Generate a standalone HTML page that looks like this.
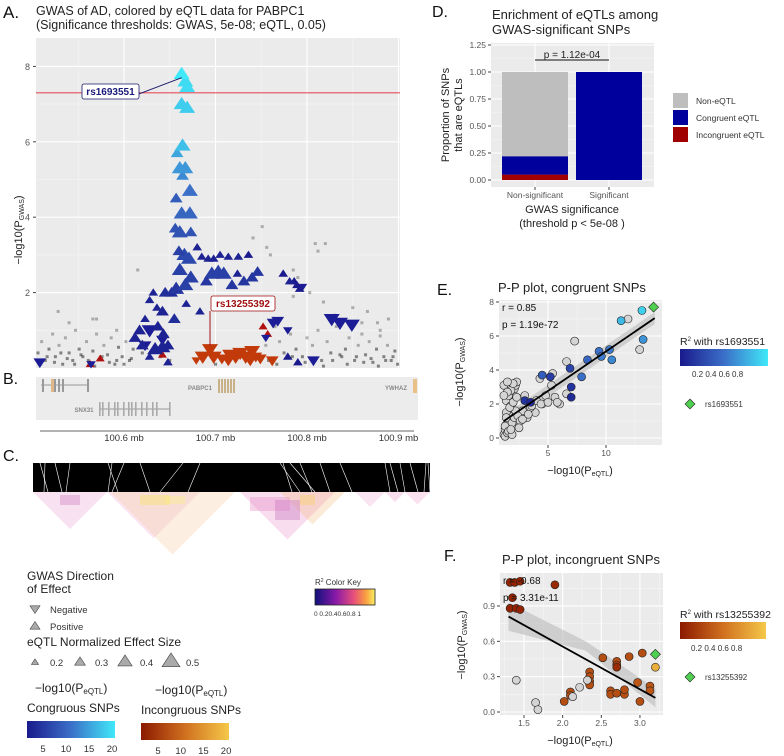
<!DOCTYPE html>
<html><head><meta charset="utf-8"><style>
body{margin:0;background:#fff;}
svg{display:block;font-family:"Liberation Sans",sans-serif;}
</style></head><body>
<svg id="fig" width="784" height="756" viewBox="0 0 784 756" xmlns="http://www.w3.org/2000/svg">
<defs>
<linearGradient id="gBlue" x1="0" x2="1"><stop offset="0" stop-color="#1a1a8c"/><stop offset="0.5" stop-color="#3b6fc8"/><stop offset="1" stop-color="#40e8f8"/></linearGradient>
<linearGradient id="gOrange" x1="0" x2="1"><stop offset="0" stop-color="#8b1a00"/><stop offset="0.5" stop-color="#d07020"/><stop offset="1" stop-color="#f5c848"/></linearGradient>
<linearGradient id="gLD" x1="0" x2="1"><stop offset="0" stop-color="#10107a"/><stop offset="0.35" stop-color="#8a1aa8"/><stop offset="0.65" stop-color="#e8507a"/><stop offset="0.85" stop-color="#f8a040"/><stop offset="1" stop-color="#f8f060"/></linearGradient>
</defs>
<g id="root"></g>
</svg>
<script>
// ===== Panel A data =====
const congMb = [100.663,100.667,100.669,100.663,100.669,100.664,100.658,100.661,100.667,100.664,100.672,100.657,100.663,100.672,100.656,100.661,100.673,100.660,100.666,100.671,100.661,100.673,100.667,100.657,100.652,100.645,100.636,100.642,100.655,100.668,100.683,100.690,100.696,100.703,100.709,100.718,100.731,100.740,100.746,100.680,100.685,100.692,100.698,100.705,100.714,100.725,100.736,100.724,100.628,100.632,100.623,100.617,100.612,100.620,100.634,100.642,100.648,100.643,100.637,100.628,100.781,100.786,100.789,100.792,100.774,100.648,100.779,100.790];
const congP = [7.8,7.6,7.45,7.0,6.9,5.9,5.7,5.3,5.3,5.1,4.7,4.5,4.1,4.1,3.7,3.6,3.6,3.1,3.0,2.9,2.6,2.4,2.2,2.1,2.0,2.0,1.6,1.5,1.3,1.7,1.5,2.3,2.5,2.55,2.5,2.2,2.3,2.4,2.55,3.2,2.95,2.9,2.9,3.0,2.95,2.95,3.0,2.5,1.8,2.0,1.3,1.0,0.8,0.6,0.5,0.55,0.6,0.9,1.1,0.3,2.3,2.3,2.2,2.1,2.5,0.15,0.3,0.15];
const congSize = [0.5,0.5,0.5,0.5,0.5,0.5,0.4,0.5,0.5,0.4,0.5,0.4,0.5,0.5,0.4,0.5,0.4,0.4,0.5,0.5,0.5,0.5,0.5,0.5,0.4,0.4,0.3,0.4,0.4,0.3,0.3,0.4,0.5,0.5,0.5,0.4,0.4,0.4,0.4,0.3,0.3,0.3,0.3,0.3,0.3,0.3,0.3,0.3,0.3,0.3,0.3,0.4,0.4,0.4,0.5,0.5,0.4,0.4,0.4,0.3,0.3,0.3,0.3,0.3,0.3,0.3,0.3,0.3];
const congEqtl = [20,19,19,18,18,17,15,14,14,13,11,9,10,10,8,8,8,6,7,7,6,6,6,5,4,4,3,3,4,3,3,5,6,6,6,5,5,5,5,3,3,3,3,3,3,3,2,3,3,3,3,3,3,3,3,3,3,3,3,3,3,2,2,2,2,3,2,2];
const congDownMb = [100.628,100.642,100.623,100.827,100.836,100.849,100.763,100.768,100.779,100.795,100.508,100.807,100.755,100.564];
const congDownP = [1.0,0.75,0.6,1.3,1.2,1.15,1.2,1.25,1.0,2.15,0.15,0.2,0.8,0.1];
const congDownSize = [0.5,0.4,0.4,0.5,0.5,0.5,0.4,0.4,0.3,0.3,0.4,0.4,0.3,0.3];
const incMb = [100.694,100.686,100.698,100.707,100.716,100.722,100.727,100.733,100.740,100.744,100.749,100.738,100.762,100.679,100.714];
const incP = [0.5,0.3,0.3,0.25,0.35,0.3,0.4,0.3,0.45,0.3,0.25,0.2,0.2,0.2,0.2];
const incSize = [0.5,0.5,0.5,0.4,0.5,0.5,0.5,0.5,0.5,0.4,0.4,0.4,0.4,0.3,0.4];
const incUpMb = [100.752,100.757,100.574,100.642,100.563];
const incUpP = [1.1,0.9,0.25,0.35,0.1];
const greyMb = [100.751,100.741,100.756,100.809,100.820,100.812,100.760,100.785,100.790,100.803,100.818,100.615,100.528,100.566,100.866,100.850,100.889,100.785,100.877,
100.506,100.510,100.514,100.518,100.522,100.525,100.529,100.533,100.536,100.540,100.544,100.547,100.551,100.555,100.559,100.562,100.566,100.570,100.574,100.578,100.582,100.586,100.590,100.594,100.598,100.602,100.606,100.610,100.620,100.640,100.650,100.700,100.755,100.765,100.770,100.775,100.782,100.788,100.795,100.800,100.806,100.812,100.816,100.822,100.826,100.832,100.838,100.842,100.846,100.852,100.856,100.860,100.864,100.868,100.872,100.876,100.880,100.884,100.888,100.892,100.896,100.899,
100.508,100.516,100.524,100.531,100.538,100.546,100.553,100.561,100.568,100.576,100.584,100.592,100.600,100.608,100.758,100.767,100.784,100.798,100.808,100.818,100.828,100.836,100.844,100.854,100.862,100.870,100.878,100.886,100.894,100.540,100.570,100.592,100.830,100.860,100.880];
const greyP = [3.75,3.45,3.2,3.3,3.3,3.1,3.0,2.6,2.4,2.0,1.75,2.6,1.5,1.3,1.5,1.6,1.3,1.9,1.2,
0.4,0.7,0.2,0.5,0.9,0.3,0.6,0.1,0.8,0.4,0.2,1.0,0.5,0.3,0.7,0.15,0.45,0.9,0.25,0.6,0.35,0.8,0.1,0.55,0.3,0.7,0.2,0.5,0.4,0.3,0.2,0.1,0.6,1.1,0.7,0.4,0.9,0.5,0.3,0.8,0.6,1.0,0.2,0.7,0.4,1.1,0.3,0.5,0.8,0.2,0.6,0.9,0.35,0.7,0.15,0.5,0.85,0.3,0.6,0.2,0.45,0.1,
0.1,0.3,0.15,0.4,0.25,0.1,0.35,0.2,0.05,0.3,0.15,0.2,0.1,0.25,0.2,0.1,0.3,0.15,0.25,0.05,0.2,0.35,0.1,0.3,0.15,0.25,0.05,0.2,0.3,1.2,1.3,1.0,1.4,1.2,1.0];
const aYTicks = [2,4,6,8];
const aXTicks = [100.6,100.7,100.8,100.9];
const aXLabels = ["100.6 mb","100.7 mb","100.8 mb","100.9 mb"];
const gwasThreshold = 7.3;

// ===== Panel D data =====
const dCategories = ["Non-significant","Significant"];
const dIncongruent = [0.05,0.0];
const dCongruent = [0.17,1.0];
const dNonEqtl = [0.78,0.0];
const dYTicks = [0,0.25,0.5,0.75,1.0,1.25];
const dYLabels = ["0.00","0.25","0.50","0.75","1.00","1.25"];

// ===== Panel E data =====
const eX = [3,3.5,4.5,5.2,6.9,7,7,7.9,8.4,9.4,9.6,10.3,10.5,11.3,13.1,13.2,
7.3,6.6,6.6,11.9,12.9,5.3,5.4,4.3,4.8,5.6,6,5.8,4.5,3.9,3.5,3.0,3.2,2.8,2.5,2.0,
1.2,1.3,1.4,1.5,1.6,1.7,1.8,1.9,2.0,2.1,2.2,2.3,1.3,1.5,1.7,1.9,2.1,1.4,1.6,1.8,2.0,1.2,1.5,1.8,2.2,2.4,2.6,1.3,1.6,1.9,1.4,1.7,2.0,2.3,1.5,1.2,1.4,1.8,2.5,2.8,3.3,3.6,4.0,4.4,5.0];
const eY = [2.2,2.1,3.7,3.6,4.1,3.0,2.4,3.6,4.6,5.1,4.8,5.2,4.6,6.9,7.5,5.8,
5.7,4.5,2.6,7.0,5.2,3.1,3.8,3.5,2.5,2.4,2.0,2.1,2.0,1.5,1.8,2.5,1.2,1.6,1.0,0.8,
0.2,0.5,0.8,1.1,1.4,1.7,2.0,2.3,2.6,2.9,3.1,3.3,0.1,0.3,0.6,0.9,1.2,2.2,2.5,2.8,3.2,3.1,3.3,1.9,1.6,1.3,1.0,0.7,0.4,0.2,1.5,1.8,2.1,2.4,2.7,2.5,1.2,0.5,0.6,1.1,1.4,1.9,2.2,2.0,2.1];
const eR2 = [0.15,0.1,0.4,0.2,0.25,0.15,0.1,0.5,0.45,0.5,0.55,0.55,0.6,0.8,0.9,0.65,
-1,-1,-1,-1,-1,-1,-1,-1,-1,-1,-1,-1,-1,-1,-1,-1,-1,-1,-1,-1,
-1,-1,-1,-1,-1,-1,-1,-1,-1,-1,-1,-1,-1,-1,-1,-1,-1,-1,-1,-1,-1,-1,-1,-1,-1,-1,-1,-1,-1,-1,-1,-1,-1,-1,-1,-1,-1,-1,-1,-1,-1,-1,-1,-1,-1];
const eLead = [14.1,7.7];
const eFit = [[1.2,1.0],[14.2,7.05]];
const eXTicks = [5,10];
const eYTicks = [0,2,4,6,8];

// ===== Panel F data =====
const fX = [1.32,1.38,1.45,1.35,1.32,1.40,1.45,1.90,2.02,2.10,2.10,2.35,2.35,2.35,2.35,2.52,2.62,2.62,2.70,2.70,2.70,2.70,2.80,2.80,2.86,2.97,3.00,3.03,3.13,3.13,3.20,
1.40,1.65,1.68,2.13,2.22,2.32];
const fY = [1.1,1.1,1.11,0.97,0.88,0.88,0.87,1.08,0.09,0.17,0.14,0.34,0.30,0.26,0.23,0.46,0.18,0.15,0.43,0.40,0.38,0.16,0.15,0.19,0.47,0.25,0.09,0.50,0.22,0.18,0.38,
0.27,0.08,0.02,0.13,0.21,0.27];
const fR2 = [0.05,0.05,0.05,0.05,0.05,0.05,0.05,0.1,0.3,0.3,0.3,0.3,0.3,0.3,0.3,0.3,0.3,0.3,0.3,0.2,0.1,0.3,0.3,0.3,0.3,0.35,0.3,0.3,0.35,0.35,0.85,
-1,-1,-1,-1,-1,-1];
const fLead = [3.2,0.49];
const fFit = [[1.3,0.81],[3.2,0.12]];
const fXTicks = [1.5,2.0,2.5,3.0];
const fYTicks = [0,0.3,0.6,0.9];

// ===== helpers =====
const NS="http://www.w3.org/2000/svg";
const root=document.getElementById('root');
function el(tag,attrs,parent,text){const e=document.createElementNS(NS,tag);for(const k in attrs)e.setAttribute(k,attrs[k]);if(text!==undefined)e.textContent=text;(parent||root).appendChild(e);return e;}
function mix(c1,c2,t){const a=[1,3,5].map(i=>parseInt(c1.substr(i,2),16)),b=[1,3,5].map(i=>parseInt(c2.substr(i,2),16));return 'rgb('+a.map((v,i)=>Math.round(v+(b[i]-v)*t)).join(',')+')';}
function blueCol(t){t=Math.max(0,Math.min(1,t));return t<0.5?mix('#1a1a8c','#3b6fc8',t*2):mix('#3b6fc8','#40e8f8',(t-0.5)*2);}
function orangeCol(t){t=Math.max(0,Math.min(1,t));return t<0.5?mix('#8b1a00','#d07020',t*2):mix('#d07020','#f5c848',(t-0.5)*2);}
function tri(g,x,y,r,up,fill,stroke){const h=r*0.9;const pts=up?[[x,y-h],[x-r,y+h*0.7],[x+r,y+h*0.7]]:[[x,y+h],[x-r,y-h*0.7],[x+r,y-h*0.7]];return el('polygon',{points:pts.map(p=>p.join(',')).join(' '),fill:fill,stroke:stroke||'none','stroke-width':0.6},g);}

// ===== Panel A =====
const xA=mb=>124+(mb-100.6)*915, yA=p=>368-p*37.7;
const gA=el('g',{});


el('text',{x:3,y:18,'font-size':17,fill:'#111'},gA,'A.');
el('text',{x:36,y:15,'font-size':12.5,fill:'#222'},gA,'GWAS of AD, colored by eQTL data for PABPC1');
el('text',{x:36,y:29,'font-size':12.5,fill:'#222'},gA,'(Significance thresholds: GWAS, 5e-08; eQTL, 0.05)');
el('rect',{x:36,y:38,width:364,height:330,fill:'#ebebeb'},gA);
for(let v=1;v<=8;v+=2){el('line',{x1:36,x2:400,y1:yA(v),y2:yA(v),stroke:'#f5f5f5','stroke-width':0.6},gA);}
aYTicks.forEach(v=>{el('line',{x1:36,x2:400,y1:yA(v),y2:yA(v),stroke:'#fff','stroke-width':1.1},gA);el('line',{x1:33,x2:36,y1:yA(v),y2:yA(v),stroke:'#444'},gA);const t=el('text',{x:30,y:yA(v)+3.5,'font-size':9,fill:'#555','text-anchor':'end'},gA,String(v));});
[100.55,100.65,100.75,100.85].forEach(v=>el('line',{x1:xA(v),x2:xA(v),y1:38,y2:368,stroke:'#f5f5f5','stroke-width':0.6},gA));
aXTicks.forEach(v=>el('line',{x1:xA(v),x2:xA(v),y1:38,y2:368,stroke:'#fff','stroke-width':1.1},gA));
const ylA=el('text',{x:0,y:0,'font-size':11,fill:'#222','text-anchor':'middle',transform:'translate(22,230) rotate(-90)'},gA);

ylA.innerHTML='−log10(P<tspan font-size="7" dy="2">GWAS</tspan><tspan dy="-2">)</tspan>';
greyMb.forEach((m,i)=>{const r=el('rect',{x:xA(m)-1.5,y:yA(greyP[i])-1.5,width:3,height:3,fill:'#000','fill-opacity':greyP[i]<0.6?0.45:0.28},gA);});
incUpMb.forEach((m,i)=>{const t=tri(gA,xA(m),yA(incUpP[i]),4.5,true,'#b01010');});
incMb.forEach((m,i)=>{const t=tri(gA,xA(m),yA(incP[i]),incSize[i]*16,false,'#c23a0a');});
congDownMb.forEach((m,i)=>{const t=tri(gA,xA(m),yA(congDownP[i]),congDownSize[i]*16,false,'#1c1c96');});
congMb.map((m,i)=>i).reverse().forEach(i=>{const t=tri(gA,xA(congMb[i]),yA(congP[i]),congSize[i]*16,true,blueCol((congEqtl[i]-2)/18));});
const thr=el('line',{x1:36,x2:400,y1:yA(gwasThreshold),y2:yA(gwasThreshold),stroke:'#e8505a','stroke-width':1.2},gA);

el('line',{x1:137,y1:yA(7.25),x2:xA(100.663),y2:yA(7.7),stroke:'#1a1a6a','stroke-width':1},gA);
const lb1=el('g',{},gA);
el('rect',{x:82,y:84,width:57,height:15,rx:2,fill:'#fff',stroke:'#1a1a6a','stroke-width':0.8},lb1);
el('text',{x:110.5,y:95,'font-size':10,'font-weight':'bold',fill:'#1a1a7a','text-anchor':'middle'},lb1,'rs1693551');
el('line',{x1:xA(100.694),y1:311,x2:xA(100.694),y2:yA(0.6),stroke:'#a01010','stroke-width':1},gA);
const lb2=el('g',{},gA);
el('rect',{x:211,y:296,width:64,height:15,rx:2,fill:'#fff',stroke:'#a01010','stroke-width':0.8},lb2);
el('text',{x:243,y:307,'font-size':10,'font-weight':'bold',fill:'#a01010','text-anchor':'middle'},lb2,'rs13255392');

// ===== Panel B =====
const gB=el('g',{});
el('text',{x:3,y:384,'font-size':16,fill:'#111'},gB,'B.');
el('rect',{x:36,y:377,width:382,height:43,fill:'#ececec'},gB);
el('line',{x1:41,x2:87,y1:385,y2:385,stroke:'#999'},gB);
[42,51,54,58,62,87].forEach((x,i)=>el('rect',{x:x,y:379,width:i==1?3:2,height:13,fill:i==1?'#e0b888':'#999'},gB));
el('text',{x:200,y:390,'font-size':6,fill:'#888','font-weight':'bold','text-anchor':'middle'},gB,'PABPC1');
[218,221,224,227,230,233].forEach(x=>el('rect',{x:x,y:379,width:2,height:14,fill:'#c8b088'},gB));
el('text',{x:396,y:390,'font-size':6,fill:'#888','font-weight':'bold','text-anchor':'middle'},gB,'YWHAZ');
el('rect',{x:413,y:379,width:4,height:14,fill:'#e8c088'},gB);
el('text',{x:84,y:412,'font-size':6,fill:'#888','font-weight':'bold','text-anchor':'middle'},gB,'SNX31');
el('line',{x1:99,x2:170,y1:409,y2:409,stroke:'#999'},gB);
[99,102,108,114,117,123,128,131,135,141,146,152,156,169].forEach(x=>el('rect',{x:x,y:402,width:1.6,height:14,fill:'#aaa'},gB));
el('line',{x1:40,x2:414,y1:431,y2:431,stroke:'#999','stroke-width':1.5},gB);
aXTicks.forEach((v,i)=>{const t=el('text',{x:xA(v),y:441,'font-size':9.5,fill:'#333','text-anchor':'middle'},gB,aXLabels[i]);});

// ===== Panel C =====
const gC=el('g',{});
el('text',{x:3,y:461,'font-size':16,fill:'#111'},gC,'C.');
const ldTris=[[33,107,'#e8a0d0'],[107,200,'#eeb0d8'],[110,235,'#f4c898'],[240,335,'#e890c8'],[280,345,'#f4b880'],[355,385,'#eca8d0'],[385,405,'#e890c0'],[405,430,'#eca0c8']];
ldTris.forEach(t=>{const w=t[1]-t[0];el('polygon',{points:`${t[0]},492 ${t[1]},492 ${(t[0]+t[1])/2},${492+w*0.5}`,fill:t[2],'fill-opacity':0.3},gC);});
[[140,495,30,10,'#f8e060'],[250,497,40,14,'#e890c8'],[275,500,25,20,'#c878c0'],[60,495,20,10,'#d080c0'],[165,496,20,8,'#f8f080'],[300,495,15,10,'#f8d060']].forEach(r=>el('rect',{x:r[0],y:r[1],width:r[2],height:r[3],fill:r[4],'fill-opacity':0.4},gC));
el('rect',{x:33,y:463,width:397,height:29,fill:'#000'},gC);
[[40,48],[45,44],[55,62],[70,66],[108,118],[112,108],[124,112],[140,150],[183,160],[200,188],[280,300],[283,292],[290,315],[300,312],[320,330],[340,352],[385,390],[390,398],[400,405],[410,418],[426,424],[428,430]].forEach(l=>el('line',{x1:l[0],y1:463,x2:l[1],y2:492,stroke:'#fff','stroke-width':0.6},gC));

// ===== Legends (bottom-left) =====
const gL=el('g',{});
el('text',{x:27,y:580,'font-size':12,fill:'#222'},gL,'GWAS Direction');
el('text',{x:27,y:593,'font-size':12,fill:'#222'},gL,'of Effect');
tri(gL,35,609,5,false,'#aaa','#444');el('text',{x:50,y:613,'font-size':9.5,fill:'#333'},gL,'Negative');
tri(gL,35,626,5,true,'#aaa','#444');el('text',{x:50,y:630,'font-size':9.5,fill:'#333'},gL,'Positive');
el('text',{x:27,y:646,'font-size':12,fill:'#222'},gL,'eQTL Normalized Effect Size');
[[35,0.2],[80,0.3],[125,0.4],[171,0.5]].forEach(s=>{tri(gL,s[0],663-s[1]*4,s[1]*18,true,'#aaa','#444');el('text',{x:s[0]+15,y:666,'font-size':9.5,fill:'#333'},gL,String(s[1]));});
el('text',{x:35,y:692,'font-size':12,fill:'#222'},gL).innerHTML='−log10(P<tspan font-size="8" dy="2">eQTL</tspan><tspan dy="-2">)</tspan>';
el('text',{x:155,y:694,'font-size':12,fill:'#222'},gL).innerHTML='−log10(P<tspan font-size="8" dy="2">eQTL</tspan><tspan dy="-2">)</tspan>';
el('text',{x:27,y:712,'font-size':12,fill:'#222'},gL,'Congruous SNPs');
el('text',{x:141,y:714,'font-size':12,fill:'#222'},gL,'Incongruous SNPs');
const cb1=el('rect',{x:27,y:721,width:88,height:17,fill:'url(#gBlue)'},gL);
const cb2=el('rect',{x:141,y:723,width:88,height:17,fill:'url(#gOrange)'},gL);
[5,10,15,20].forEach((v,i)=>{el('text',{x:43+i*23,y:752,'font-size':9.5,fill:'#333','text-anchor':'middle'},gL,String(v));el('text',{x:158+i*22.7,y:754,'font-size':9.5,fill:'#333','text-anchor':'middle'},gL,String(v));});
el('text',{x:315,y:585,'font-size':8,fill:'#333'},gL).innerHTML='R<tspan font-size="5" dy="-3">2</tspan><tspan dy="3"> Color Key</tspan>';
const ldb=el('rect',{x:315,y:589,width:60,height:16,fill:'url(#gLD)',stroke:'#222','stroke-width':0.8},gL);
el('text',{x:314,y:616,'font-size':6.5,fill:'#333'},gL,'0  0.20.40.60.8  1');

// ===== Panel D =====
const yD=v=>180-v*108;
const gD=el('g',{});
el('text',{x:432,y:17,'font-size':16,fill:'#111'},gD,'D.');
el('text',{x:492,y:19,'font-size':13,fill:'#222'},gD,'Enrichment of eQTLs among');
el('text',{x:492,y:34,'font-size':13,fill:'#222'},gD,'GWAS-significant SNPs');
el('rect',{x:491,y:43,width:163,height:144,fill:'#ebebeb'},gD);
dYTicks.forEach((v,i)=>{if(i<dYTicks.length-1)el('line',{x1:491,x2:654,y1:yD(v+0.125),y2:yD(v+0.125),stroke:'#f5f5f5','stroke-width':0.6},gD);el('line',{x1:491,x2:654,y1:yD(v),y2:yD(v),stroke:'#fff','stroke-width':1.1},gD);el('line',{x1:488,x2:491,y1:yD(v),y2:yD(v),stroke:'#444'},gD);const t=el('text',{x:486,y:yD(v)+3,'font-size':8.5,fill:'#555','text-anchor':'end'},gD,dYLabels[i]);});
const xD=i=>535+i*74;
dCategories.forEach((c,i)=>{el('line',{x1:xD(i),x2:xD(i),y1:43,y2:187,stroke:'#fff','stroke-width':1.1},gD);
 let base=0;[[dIncongruent,'#a00000','bar-incongruent'],[dCongruent,'#00009c','bar-congruent'],[dNonEqtl,'#bebebe','bar-non-eqtl']].forEach(s=>{const v=s[0][i];if(v>0){const r=el('rect',{x:xD(i)-33,y:yD(base+v),width:66,height:v*108,fill:s[1]},gD);}base+=v;});
 el('line',{x1:xD(i),x2:xD(i),y1:187,y2:190,stroke:'#444'},gD);
 const t=el('text',{x:xD(i),y:198,'font-size':8.5,fill:'#555','text-anchor':'middle'},gD,c);});
el('line',{x1:535,x2:609,y1:60,y2:60,stroke:'#111'},gD);
el('text',{x:572,y:58,'font-size':10,fill:'#222','text-anchor':'middle'},gD,'p = 1.12e-04');
el('text',{x:572,y:213,'font-size':11,fill:'#222','text-anchor':'middle'},gD,'GWAS significance');
el('text',{x:572,y:227,'font-size':11,fill:'#222','text-anchor':'middle'},gD,'(threshold p < 5e-08 )');
el('text',{x:0,y:0,'font-size':11,fill:'#222','text-anchor':'middle',transform:'translate(449,115) rotate(-90)'},gD,'Proportion of SNPs');
el('text',{x:0,y:0,'font-size':11,fill:'#222','text-anchor':'middle',transform:'translate(462,115) rotate(-90)'},gD,'that are eQTLs');
[['#bebebe','Non-eQTL',93],['#00009c','Congruent eQTL',110],['#a00000','Incongruent eQTL',127]].forEach(l=>{const g=el('g',{},gD);el('rect',{x:673,y:l[2],width:15,height:15,fill:l[0]},g);el('text',{x:696,y:l[2]+11,'font-size':8.5,fill:'#333'},g,l[1]);});

// ===== Panel E =====
const xE=v=>548+(v-5)*11.6, yE=v=>438-v*17;
const gE=el('g',{});
el('text',{x:437,y:295,'font-size':16,fill:'#111'},gE,'E.');
el('text',{x:498,y:292,'font-size':13,fill:'#222'},gE,'P-P plot, congruent SNPs');
el('rect',{x:499,y:300,width:163,height:145,fill:'#ebebeb'},gE);
[1,3,5,7].forEach(v=>el('line',{x1:499,x2:662,y1:yE(v),y2:yE(v),stroke:'#f5f5f5','stroke-width':0.6},gE));
[2.5,7.5,12.5].forEach(v=>el('line',{x1:xE(v),x2:xE(v),y1:300,y2:445,stroke:'#f5f5f5','stroke-width':0.6},gE));
eYTicks.forEach(v=>{el('line',{x1:499,x2:662,y1:yE(v),y2:yE(v),stroke:'#fff','stroke-width':1.1},gE);el('line',{x1:496,x2:499,y1:yE(v),y2:yE(v),stroke:'#444'},gE);el('text',{x:494,y:yE(v)+3,'font-size':8.5,fill:'#555','text-anchor':'end'},gE,String(v));});
eXTicks.forEach(v=>{el('line',{x1:xE(v),x2:xE(v),y1:300,y2:445,stroke:'#fff','stroke-width':1.1},gE);el('line',{x1:xE(v),x2:xE(v),y1:445,y2:448,stroke:'#444'},gE);el('text',{x:xE(v),y:456,'font-size':8.5,fill:'#555','text-anchor':'middle'},gE,String(v));});
const e0=eFit[0],e1=eFit[1];
el('polygon',{points:`${xE(e0[0])},${yE(e0[1]-0.35)} ${xE(e1[0])},${yE(e1[1]-0.35)} ${xE(e1[0])},${yE(e1[1]+0.35)} ${xE(e0[0])},${yE(e0[1]+0.35)}`,fill:'#bbb','fill-opacity':0.6},gE);
eX.forEach((x,i)=>{if(eR2[i]<0){const c=el('circle',{cx:xE(x),cy:yE(eY[i]),r:4,fill:'#d4d4d4',stroke:'#222','stroke-width':0.6},gE);}});
eX.forEach((x,i)=>{if(eR2[i]>=0){const c=el('circle',{cx:xE(x),cy:yE(eY[i]),r:4,fill:blueCol(eR2[i]),stroke:'#222','stroke-width':0.6},gE);}});
const fl=el('line',{x1:xE(e0[0]),y1:yE(e0[1]),x2:xE(e1[0]),y2:yE(e1[1]),stroke:'#000','stroke-width':1.8},gE);
const ed=el('polygon',{points:`${xE(eLead[0])},${yE(eLead[1])-5} ${xE(eLead[0])+5},${yE(eLead[1])} ${xE(eLead[0])},${yE(eLead[1])+5} ${xE(eLead[0])-5},${yE(eLead[1])}`,fill:'#50d050',stroke:'#222','stroke-width':0.6},gE);
el('text',{x:502,y:311,'font-size':10,fill:'#111'},gE,'r = 0.85');
el('text',{x:502,y:328,'font-size':10,fill:'#111'},gE,'p = 1.19e-72');
el('text',{x:580,y:474,'font-size':11,fill:'#222','text-anchor':'middle'},gE).innerHTML='−log10(P<tspan font-size="7" dy="2">eQTL</tspan><tspan dy="-2">)</tspan>';
el('text',{x:0,y:0,'font-size':11,fill:'#222','text-anchor':'middle',transform:'translate(463,372) rotate(-90)'},gE).innerHTML='−log10(P<tspan font-size="7" dy="2">GWAS</tspan><tspan dy="-2">)</tspan>';
el('text',{x:680,y:345,'font-size':10.5,fill:'#222'},gE).innerHTML='R<tspan font-size="6" dy="-4">2</tspan><tspan dy="4"> with rs1693551</tspan>';
el('rect',{x:680,y:349,width:88,height:17,fill:'url(#gBlue)'},gE);
el('text',{x:692,y:377,'font-size':8,fill:'#333'},gE,'0.2 0.4 0.6 0.8');
el('polygon',{points:'690,399 695,404 690,409 685,404',fill:'#50d050',stroke:'#222','stroke-width':0.6},gE);
el('text',{x:705,y:407,'font-size':8,fill:'#333'},gE,'rs1693551');

// ===== Panel F =====
const xF=v=>524+(v-1.5)*77.3, yF=v=>712-v*117.8;
const gF=el('g',{});
el('text',{x:444,y:561,'font-size':16,fill:'#111'},gF,'F.');
el('text',{x:502,y:564,'font-size':13,fill:'#222'},gF,'P-P plot, incongruent SNPs');
el('rect',{x:500,y:573,width:163,height:142,fill:'#ebebeb'},gF);
[0.15,0.45,0.75,1.05].forEach(v=>el('line',{x1:500,x2:663,y1:yF(v),y2:yF(v),stroke:'#f5f5f5','stroke-width':0.6},gF));
[1.25,1.75,2.25,2.75,3.25].forEach(v=>el('line',{x1:xF(v),x2:xF(v),y1:573,y2:715,stroke:'#f5f5f5','stroke-width':0.6},gF));
fYTicks.forEach(v=>{el('line',{x1:500,x2:663,y1:yF(v),y2:yF(v),stroke:'#fff','stroke-width':1.1},gF);el('line',{x1:497,x2:500,y1:yF(v),y2:yF(v),stroke:'#444'},gF);el('text',{x:495,y:yF(v)+3,'font-size':8.5,fill:'#555','text-anchor':'end'},gF,v.toFixed(1));});
fXTicks.forEach(v=>{el('line',{x1:xF(v),x2:xF(v),y1:573,y2:715,stroke:'#fff','stroke-width':1.1},gF);el('line',{x1:xF(v),x2:xF(v),y1:715,y2:718,stroke:'#444'},gF);el('text',{x:xF(v),y:726,'font-size':8.5,fill:'#555','text-anchor':'middle'},gF,v.toFixed(1));});
const f0=fFit[0],f1=fFit[1];
el('polygon',{points:`${xF(f0[0])},${yF(f0[1]-0.12)} ${xF(2.3)},${yF(0.52)} ${xF(f1[0])},${yF(f1[1]-0.08)} ${xF(f1[0])},${yF(f1[1]+0.08)} ${xF(2.3)},${yF(0.6)} ${xF(f0[0])},${yF(f0[1]+0.12)}`,fill:'#bbb','fill-opacity':0.6},gF);
fX.forEach((x,i)=>{const c=el('circle',{cx:xF(x),cy:yF(fY[i]),r:4,fill:fR2[i]<0?'#d4d4d4':orangeCol(fR2[i]),stroke:'#222','stroke-width':0.6},gF);});
const fl2=el('line',{x1:xF(f0[0]),y1:yF(f0[1]),x2:xF(f1[0]),y2:yF(f1[1]),stroke:'#000','stroke-width':1.8},gF);
const fd=el('polygon',{points:`${xF(fLead[0])},${yF(fLead[1])-5} ${xF(fLead[0])+5},${yF(fLead[1])} ${xF(fLead[0])},${yF(fLead[1])+5} ${xF(fLead[0])-5},${yF(fLead[1])}`,fill:'#50d050',stroke:'#222','stroke-width':0.6},gF);
el('text',{x:503,y:584,'font-size':10,fill:'#111'},gF,'r = -0.68');
el('text',{x:503,y:601,'font-size':10,fill:'#111'},gF,'p = 3.31e-11');
el('text',{x:580,y:744,'font-size':11,fill:'#222','text-anchor':'middle'},gF).innerHTML='−log10(P<tspan font-size="7" dy="2">eQTL</tspan><tspan dy="-2">)</tspan>';
el('text',{x:0,y:0,'font-size':11,fill:'#222','text-anchor':'middle',transform:'translate(465,645) rotate(-90)'},gF).innerHTML='−log10(P<tspan font-size="7" dy="2">GWAS</tspan><tspan dy="-2">)</tspan>';
el('text',{x:680,y:618,'font-size':10.5,fill:'#222'},gF).innerHTML='R<tspan font-size="6" dy="-4">2</tspan><tspan dy="4"> with rs13255392</tspan>';
el('rect',{x:680,y:622,width:86,height:17,fill:'url(#gOrange)'},gF);
el('text',{x:691,y:651,'font-size':8,fill:'#333'},gF,'0.2 0.4 0.6 0.8');
el('polygon',{points:'690,672 695,677 690,682 685,677',fill:'#50d050',stroke:'#222','stroke-width':0.6},gF);
el('text',{x:705,y:680,'font-size':8,fill:'#333'},gF,'rs13255392');
</script>
</body></html>
